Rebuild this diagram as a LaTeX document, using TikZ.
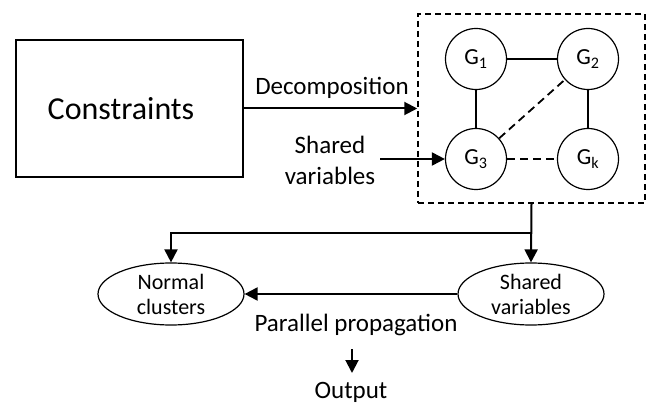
\documentclass[tikz,border=0pt]{standalone}
\usepackage{fontspec}
\setmainfont{Carlito}
\usetikzlibrary{arrows.meta,shapes.geometric}
\begin{document}
\begin{tikzpicture}[x=1pt,y=-1pt,
  arr/.style={line width=2pt,-{Triangle[length=13pt,width=13pt]}},
  ln/.style={line width=1.8pt},
  dsh/.style={dash pattern=on 8pt off 5pt},
  gnode/.style={circle,draw,line width=1.2pt,minimum size=61pt,inner sep=0pt,font=\fontsize{23}{26}\selectfont},
  ell/.style={ellipse,draw,line width=1.2pt,minimum width=146pt,minimum height=62pt,inner sep=0pt,font=\fontsize{22}{25}\selectfont,align=center},
  lbl/.style={font=\fontsize{25}{30}\selectfont,align=center,inner sep=0pt}]
\useasboundingbox (0,0) rectangle (653,406);
\node[draw,line width=1.2pt,minimum width=227pt,minimum height=137pt,inner sep=0pt] (con) at (129.5,108.5) {};
\node[font=\fontsize{32}{36}\selectfont,inner sep=0pt] (cont) at (121,108.5) {Constraints};
\node[draw,dash pattern=on 6pt off 4pt,line width=1.5pt,minimum width=227pt,minimum height=189pt,inner sep=0pt] (box) at (531.5,108.5) {};
\node[gnode] (g1) at (476,59) {G\textsubscript{1}};
\node[gnode] (g2) at (588,59) {G\textsubscript{2}};
\node[gnode] (g3) at (476,159) {G\textsubscript{3}};
\node[gnode] (gk) at (588,159) {G\textsubscript{k}};
\draw[ln] (g1) -- (g2);
\draw[ln] (g1) -- (g3);
\draw[ln] (g2) -- (gk);
\draw[ln,dsh] (g3) -- (g2);
\draw[ln,dsh] (g3) -- (gk);
\draw[arr] (con.east) -- (box.west);
\node[lbl] (dec) at (332,88) {Decomposition};
\node[lbl] (sv) at (330,160) {Shared\\[1pt]variables};
\coordinate (svs) at (380,159);
\draw[arr] (svs) -- (g3.west);
\node[ell] (nc) at (171,294) {Normal\\clusters};
\node[ell] (sh) at (531,294) {Shared\\variables};
\coordinate (br) at (531.5,233);
\draw[arr] (box.south) -- (sh.north);
\draw[arr] (br) -| (nc.north);
\draw[arr] (sh.west) -- (nc.east);
\node[lbl] (pp) at (356,325) {Parallel propagation};
\coordinate (os) at (352,349);
\coordinate (oe) at (352,373);
\draw[arr] (os) -- (oe);
\node[lbl] (out) at (351,392) {Output};
\end{tikzpicture}
\end{document}
